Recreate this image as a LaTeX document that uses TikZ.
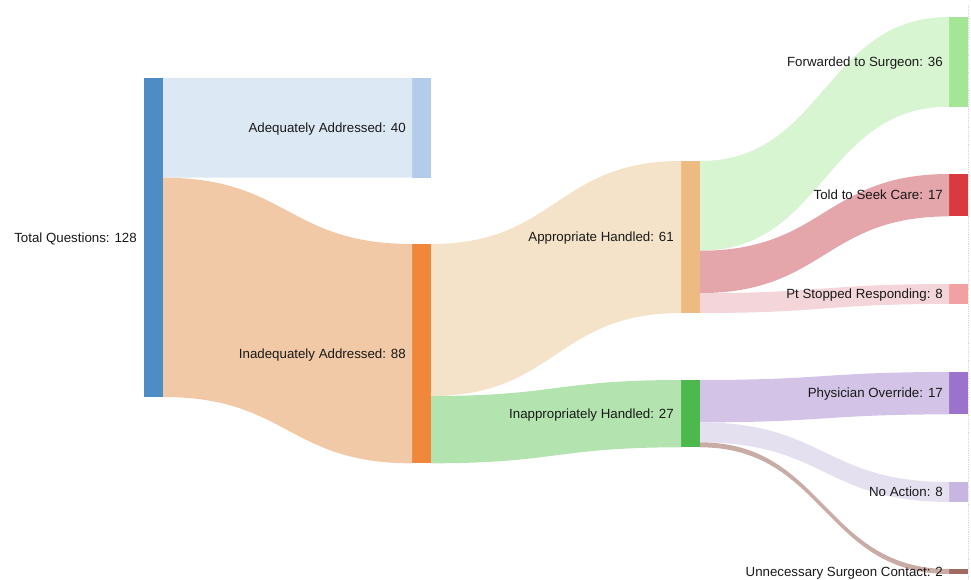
\documentclass[tikz,border=0pt]{standalone}
\usepackage{fontspec}
\setmainfont{Liberation Sans}
\usetikzlibrary{positioning,calc}

\definecolor{totalc}{HTML}{4D8CC4}
\definecolor{adeqc}{HTML}{B3CCEA}
\definecolor{adeqf}{HTML}{DDE8F5}
\definecolor{inadc}{HTML}{F0873A}
\definecolor{inadf}{HTML}{F2C9A6}
\definecolor{apprc}{HTML}{EDBB82}
\definecolor{apprf}{HTML}{F5E3C9}
\definecolor{inapc}{HTML}{4DB84B}
\definecolor{inapf}{HTML}{B3E3AE}
\definecolor{fwdc}{HTML}{A3E696}
\definecolor{fwdf}{HTML}{D8F5D1}
\definecolor{toldc}{HTML}{D83A3F}
\definecolor{toldf}{HTML}{E4A5AB}
\definecolor{stopc}{HTML}{F1A1A2}
\definecolor{stopf}{HTML}{F4D5D9}
\definecolor{physc}{HTML}{9B73CC}
\definecolor{physf}{HTML}{D3C3E7}
\definecolor{noactc}{HTML}{C9B6E0}
\definecolor{noactf}{HTML}{E5E0F0}
\definecolor{unnc}{HTML}{9E6A62}
\definecolor{unnf}{HTML}{C9ACA6}

% pixels per question
\def\qn{2.4922}

\tikzset{
  sbar/.style={draw=none, rectangle, inner sep=0pt, outer sep=0pt, anchor=north west,
    minimum width=19pt, minimum height=#1*\qn*1pt},
  lbl/.style={inner sep=0pt, text=black!90, text height=9.3pt, text depth=0pt,
    font=\fontsize{13.3}{16}\selectfont}
}

% flow: source, offset at source, target, offset at target, questions, colour
\newcommand{\flow}[6]{%
  \path ($(#1.north east)+(0,{#2*\qn})$) coordinate (fa)
        ($(#3.north west)+(0,{#4*\qn})$) coordinate (fb)
        ($(fa)!.5!(fb)$) coordinate (fm)
        ($(fa)+(0,{#5*\qn})$) coordinate (fc)
        ($(fb)+(0,{#5*\qn})$) coordinate (fd);
  \fill[#6] (fa) .. controls (fm |- fa) and (fm |- fb) .. (fb) -- (fd)
    .. controls (fm |- fd) and (fm |- fc) .. (fc) -- cycle;}

\begin{document}
\begin{tikzpicture}[x=1pt, y=-1pt]
\useasboundingbox (0,0) rectangle (971,580);

% bars
\node[sbar=128, fill=totalc] (total) at (144,78) {};
\node[sbar=40, fill=adeqc] (adeq) at (412,78) {};
\node[sbar=88, fill=inadc] (inad) at (412,244) {};
\node[sbar=61, fill=apprc] (appr) at (681,161) {};
\node[sbar=27, fill=inapc] (inap) at (681,380) {};
\node[sbar=36, fill=fwdc] (fwd) at (949,17) {};
\node[sbar=17, fill=toldc] (told) at (949,174) {};
\node[sbar=8, fill=stopc] (stop) at (949,284) {};
\node[sbar=17, fill=physc] (phys) at (949,372) {};
\node[sbar=8, fill=noactc] (noact) at (949,482) {};
\node[sbar=2, fill=unnc] (unn) at (949,569) {};

% flows
\flow{total}{0}{adeq}{0}{40}{adeqf}
\flow{total}{40}{inad}{0}{88}{inadf}
\flow{inad}{0}{appr}{0}{61}{apprf}
\flow{inad}{61}{inap}{0}{27}{inapf}
\flow{appr}{0}{fwd}{0}{36}{fwdf}
\flow{appr}{36}{told}{0}{17}{toldf}
\flow{appr}{53}{stop}{0}{8}{stopf}
\flow{inap}{0}{phys}{0}{17}{physf}
\flow{inap}{17}{noact}{0}{8}{noactf}
\flow{inap}{25}{unn}{0}{2}{unnf}

% labels
\node[lbl, left=7pt of total] (totallbl) {Total Questions: 128};
\node[lbl, left=6pt of adeq] (adeqlbl) {Adequately Addressed: 40};
\node[lbl, left=6pt of inad] (inadlbl) {Inadequately Addressed: 88};
\node[lbl, left=7pt of appr] (apprlbl) {Appropriate Handled: 61};
\node[lbl, left=7pt of inap] (inaplbl) {Inappropriately Handled: 27};
\node[lbl, left=6pt of fwd] (fwdlbl) {Forwarded to Surgeon: 36};
\node[lbl, left=6pt of told] (toldlbl) {Told to Seek Care: 17};
\node[lbl, left=6pt of stop] (stoplbl) {Pt Stopped Responding: 8};
\node[lbl, left=6pt of phys] (physlbl) {Physician Override: 17};
\node[lbl, left=6pt of noact] (noactlbl) {No Action: 8};
\node[lbl, left=6pt of unn] (unnlbl) {Unnecessary Surgeon Contact: 2};

% frame edge
\coordinate (edgetop) at (968.5,5);
\coordinate (edgebot) at (968.5,580);
\draw[black!15, line width=0.8pt, densely dotted] (edgetop) -- (edgebot);
\end{tikzpicture}
\end{document}
